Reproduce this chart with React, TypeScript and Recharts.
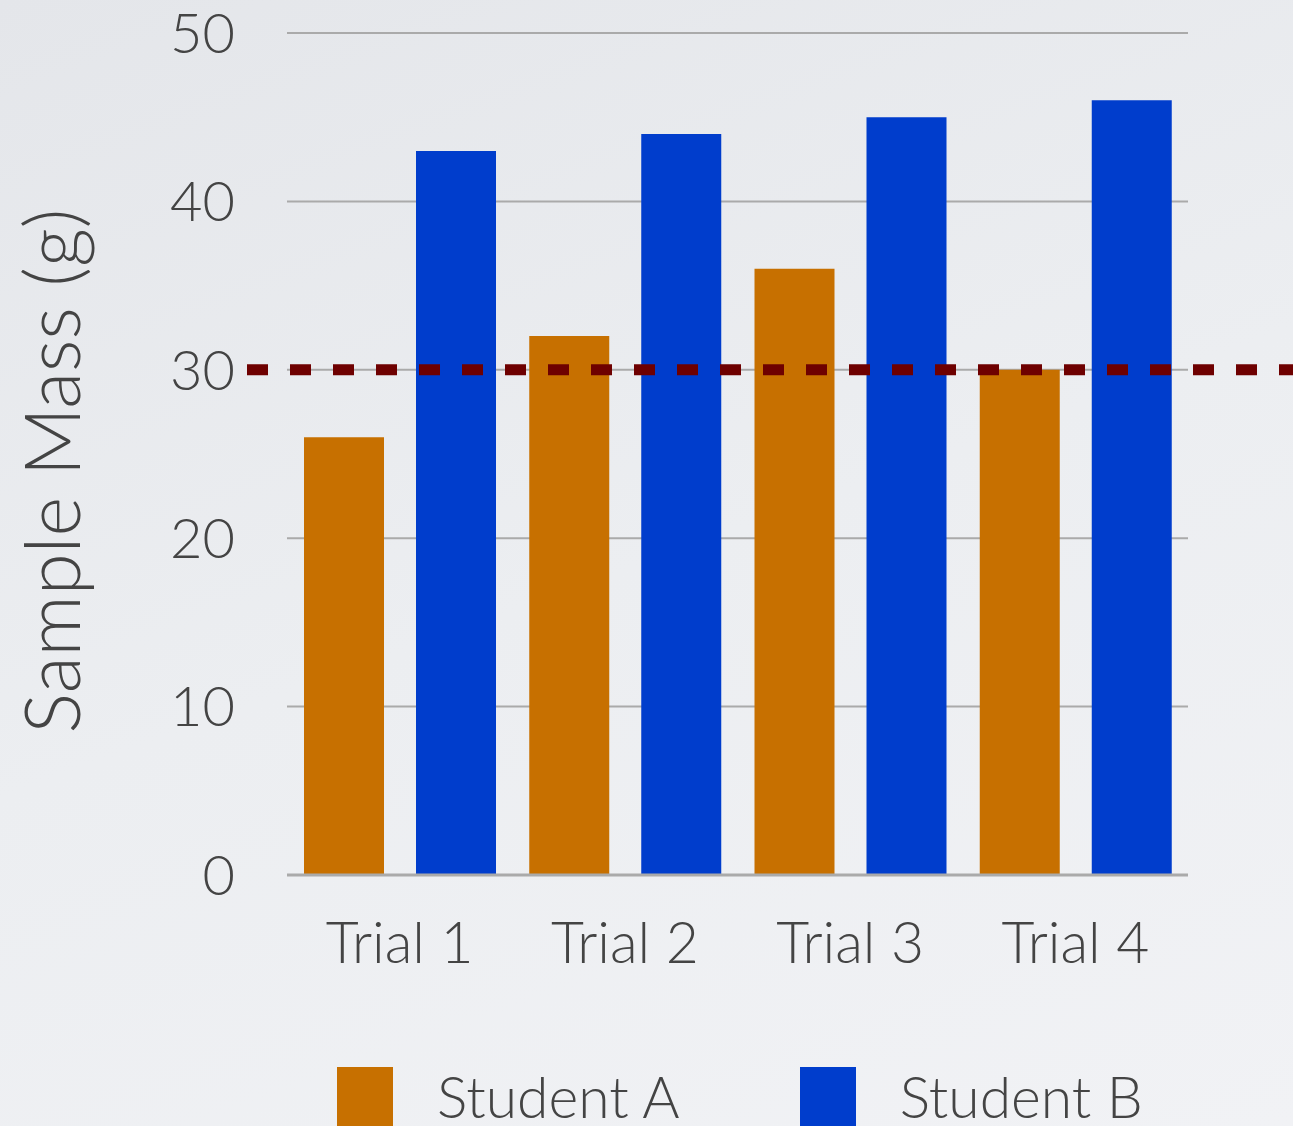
import { BarChart, Bar, XAxis, YAxis, CartesianGrid, ReferenceLine, Legend, Label } from 'recharts';

const trials = ['Trial 1', 'Trial 2', 'Trial 3', 'Trial 4'];
const studentA = [26, 32, 36, 30];
const studentB = [43, 44, 45, 46];
const yTicks = [0, 10, 20, 30, 40, 50];
const targetMass = 30;

const data = trials.map((trial, i) => ({ trial, a: studentA[i], b: studentB[i] }));

const FONT = 'Lato, "Open Sans", sans-serif';
const TEXT = '#444444';

const renderLegend = ({ payload }: any) => (
  <div style={{ display: 'flex', alignItems: 'flex-start', fontFamily: FONT, fontWeight: 300, color: TEXT }}>
    {(payload || []).map((entry: any, i: number) => (
      <div key={entry.value} style={{ display: 'flex', alignItems: 'flex-start', marginRight: i === 0 ? 120 : 0 }}>
        <div style={{ width: 56, height: 59, background: entry.color, marginRight: 44 }} />
        <span style={{ fontSize: 57, lineHeight: '46px', marginTop: 6, whiteSpace: 'nowrap' }}>{entry.value}</span>
      </div>
    ))}
  </div>
);

export default function App() {
  return (
    <div
      style={{
        width: 1293,
        height: 1126,
        overflow: 'hidden',
        background: 'linear-gradient(160deg, #e4e6ea 0%, #eceef1 50%, #f1f2f5 100%)',
      }}
    >
      <style>{`body{margin:0}`}</style>
      <BarChart
        width={1293}
        height={1126}
        data={data}
        margin={{ top: 33, right: 105, left: 0, bottom: 151 }}
        barCategoryGap={17}
        barGap={32}
      >
        <CartesianGrid vertical={false} stroke="#aaaaaa" strokeWidth={2} />
        <XAxis
          dataKey="trial"
          height={100}
          axisLine={{ stroke: '#aaaaaa', strokeWidth: 3 }}
          tickLine={false}
          tickSize={0}
          tickMargin={48}
          tick={{ fill: TEXT, fontSize: 57, fontFamily: FONT, fontWeight: 300 }}
        />
        <YAxis
          width={287}
          domain={[0, 50]}
          ticks={yTicks}
          axisLine={false}
          tickLine={false}
          tickSize={0}
          tickMargin={52}
          tick={{ fill: TEXT, fontSize: 56, fontFamily: FONT, fontWeight: 300 }}
        >
          <Label
            content={({ viewBox }: any) => {
              const x = viewBox.x + 80;
              const y = viewBox.y + viewBox.height / 2 + 17;
              return (
                <text
                  x={x}
                  y={y}
                  transform={`rotate(-90, ${x}, ${y})`}
                  textAnchor="middle"
                  fill={TEXT}
                  fontSize={76}
                  fontFamily={FONT}
                  fontWeight={300}
                >
                  Sample Mass (g)
                </text>
              );
            }}
          />
        </YAxis>
        <Bar dataKey="a" name="Student A" fill="#c77000" isAnimationActive={false} />
        <Bar dataKey="b" name="Student B" fill="#003dcc" isAnimationActive={false} />
        <ReferenceLine
          y={targetMass}
          shape={(p: any) => (
            <line
              x1={p.x1 - 40}
              y1={p.y1}
              x2={p.x2 + 105}
              y2={p.y2}
              stroke="#6e0000"
              strokeWidth={11}
              strokeDasharray="21 22"
            />
          )}
        />
        <Legend
          verticalAlign="middle"
          align="center"
          content={renderLegend}
          wrapperStyle={{ top: 1067, left: 337, width: 'auto' }}
        />
      </BarChart>
    </div>
  );
}
